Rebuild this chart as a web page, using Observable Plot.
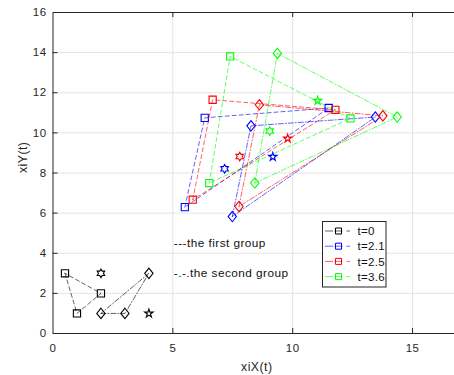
<!DOCTYPE html>
<html><head><meta charset="utf-8">
<script src="https://cdn.jsdelivr.net/npm/d3@7"></script>
<script src="https://cdn.jsdelivr.net/npm/@observablehq/plot@0.6"></script>
<style>
body{margin:0;background:#fff;}
#wrap{width:454px;height:375px;overflow:hidden;position:relative;background:#fff;}
</style></head><body><div id="wrap"></div>
<script>
// ---- data ----
const groups = ["t=0", "t=2.1", "t=2.5", "t=3.6"];
const colors = ["#000000", "#0000ff", "#ff0000", "#00ff00"];
// first group: squares, dashed triangle
const sqX = [[0.5, 1, 2], [5.5, 6.33, 11.5], [5.83, 6.66, 11.78], [6.52, 7.39, 12.41]];
const sqY = [[3, 1, 2], [6.3, 10.75, 11.24], [6.67, 11.65, 11.15], [7.5, 13.81, 10.72]];
// second group: diamonds, dash-dot triangle
const diX = [[2, 3, 4], [7.48, 8.26, 13.45], [7.76, 8.61, 13.76], [8.42, 9.36, 14.36]];
const diY = [[1, 1, 3], [5.83, 10.35, 10.79], [6.33, 11.4, 10.85], [7.5, 13.96, 10.79]];
// hexagram and pentagram markers
const hexX = [2, 7.16, 7.79, 9.04];
const hexY = [3, 8.21, 8.82, 10.09];
const penX = [4, 9.17, 9.79, 11.04];
const penY = [1, 8.81, 9.72, 11.6];
const xTicks = [0, 5, 10, 15];
const yTicks = [0, 2, 4, 6, 8, 10, 12, 14, 16];
const notes = ["---the first group", "-.-.the second group"];
const noteX = [5, 5];
const noteY = [4.5, 3];
const xLabel = "xiX(t)";
const yLabel = "xiY(t)";

// ---- symbols (MATLAB-like) ----
const sqSym = {draw(c, s) {const r = Math.sqrt(s / Math.PI); c.moveTo(-r, -r); c.lineTo(r, -r); c.lineTo(r, r); c.lineTo(-r, r); c.closePath();}};
const diSym = {draw(c, s) {const r = Math.sqrt(s / Math.PI), w = r * 0.8; c.moveTo(0, -r); c.lineTo(w, 0); c.lineTo(0, r); c.lineTo(-w, 0); c.closePath();}};
function starSym(n, inner) {
  return {draw(c, s) {
    const r = Math.sqrt(s / Math.PI);
    for (let i = 0; i < 2 * n; i++) {
      const a = -Math.PI / 2 + i * Math.PI / n, rr = i % 2 ? r * inner : r;
      const x = rr * Math.cos(a), y = rr * Math.sin(a);
      i ? c.lineTo(x, y) : c.moveTo(x, y);
    }
    c.closePath();
  }};
}
const hexSym = starSym(6, 0.577);
const penSym = starSym(5, 0.382);

// ---- tables built from arrays ----
const sqLine = [], diLine = [], sqPts = [], diPts = [];
groups.forEach((g, i) => {
  [0, 1, 2, 0].forEach(k => {
    sqLine.push({x: sqX[i][k], y: sqY[i][k], g});
    diLine.push({x: diX[i][k], y: diY[i][k], g});
  });
  [0, 1, 2].forEach(k => {
    sqPts.push({x: sqX[i][k], y: sqY[i][k], g});
    diPts.push({x: diX[i][k], y: diY[i][k], g});
  });
});
const hexPts = groups.map((g, i) => ({x: hexX[i], y: hexY[i], g}));
const penPts = groups.map((g, i) => ({x: penX[i], y: penY[i], g}));

const W = 460, H = 375, mL = 52.5, mT = 12, mB = 42, mR = 0;
const plotW = W - mL - mR, plotH = H - mT - mB;
const axisColor = "#262626";
const gridColor = "#e4e4e4";

const plot = Plot.plot({
  width: W, height: H,
  marginLeft: mL, marginRight: mR, marginTop: mT, marginBottom: mB,
  style: {maxWidth: "none", background: "#fff", fontFamily: "'Liberation Sans', Arial, sans-serif", fontSize: "11.5px", letterSpacing: "0.45px", overflow: "hidden"},
  x: {domain: [0, 17]},
  y: {domain: [0, 16]},
  color: {domain: groups, range: colors},
  marks: [
    Plot.ruleX(xTicks.slice(1), {stroke: gridColor, strokeWidth: 1}),
    Plot.ruleY(yTicks.slice(1, -1), {stroke: gridColor, strokeWidth: 1}),
    Plot.line(sqLine, {x: "x", y: "y", z: "g", stroke: "g", strokeWidth: 1, strokeOpacity: 0.62, strokeDasharray: "4,3"}),
    Plot.line(diLine, {x: "x", y: "y", z: "g", stroke: "g", strokeWidth: 1, strokeOpacity: 0.62, strokeDasharray: "5,2,1,2"}),
    Plot.dot(sqPts, {x: "x", y: "y", stroke: "g", symbol: sqSym, r: 3.6, strokeWidth: 1.1}),
    Plot.dot(diPts, {x: "x", y: "y", stroke: "g", symbol: diSym, r: 5.2, strokeWidth: 1.1}),
    Plot.dot(hexPts, {x: "x", y: "y", stroke: "g", symbol: hexSym, r: 4.3, strokeWidth: 1.1}),
    Plot.dot(penPts, {x: "x", y: "y", stroke: "g", symbol: penSym, r: 4.4, strokeWidth: 1.1}),
    Plot.text(notes, {x: noteX, y: noteY, text: d => d, textAnchor: "start", lineAnchor: "middle", dx: 1, fill: "#111", fontSize: 11.8}),
    Plot.frame({stroke: axisColor, strokeWidth: 1}),
    Plot.ruleX(xTicks.slice(1), {stroke: axisColor, insetTop: plotH - 5}),
    Plot.ruleX(xTicks.slice(1), {stroke: axisColor, insetBottom: plotH - 5}),
    Plot.ruleY(yTicks.slice(1, -1), {stroke: axisColor, insetRight: plotW - 5}),
    Plot.axisX({ticks: xTicks, tickSize: 0, tickPadding: 10, label: null, tickFormat: d => String(d), fill: axisColor, fontSize: 11.5}),
    Plot.axisY({ticks: yTicks, tickSize: 0, tickPadding: 6.5, label: null, tickFormat: d => String(d), fill: axisColor, fontSize: 11.5}),
    Plot.text([xLabel], {frameAnchor: "bottom", dy: 34, lineAnchor: "middle", text: d => d, fill: axisColor, fontSize: 12.3}),
    Plot.text([yLabel], {frameAnchor: "left", dx: -29.5, rotate: -90, lineAnchor: "middle", text: d => d, fill: axisColor, fontSize: 12.3})
  ]
});

// ---- legend (inside the axes, MATLAB style) ----
const svg = d3.select(plot);
const lg = svg.append("g").attr("text-anchor", "start");
const lx = 322.5, ly = 221.5, lw = 63.5, lh = 65.5;
lg.append("rect").attr("x", lx).attr("y", ly).attr("width", lw).attr("height", lh)
  .attr("fill", "#fff").attr("stroke", axisColor).attr("stroke-width", 1);
groups.forEach((g, i) => {
  const cy = 231 + i * 15.2;
  lg.append("line").attr("x1", 325).attr("x2", 350).attr("y1", cy).attr("y2", cy)
    .attr("stroke", colors[i]).attr("stroke-opacity", 0.62).attr("stroke-dasharray", "8,1.5,8,4");
  lg.append("path").attr("transform", `translate(338.5,${cy})`)
    .attr("d", d3.symbol(sqSym, Math.PI * 3 * 3)()).attr("fill", "none").attr("stroke", colors[i]);
  lg.append("text").attr("x", 357.5).attr("y", cy).attr("dy", "0.36em")
    .attr("fill", "#111").attr("font-size", 11.5).attr("letter-spacing", "0.3px").text(g);
});

document.getElementById("wrap").appendChild(plot);
</script></body></html>
